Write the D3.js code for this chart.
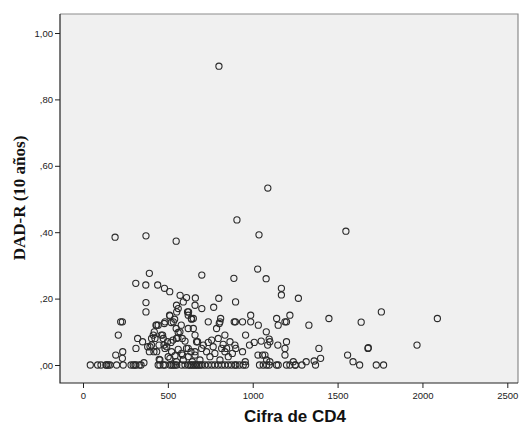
<!DOCTYPE html>
<html><head><meta charset="utf-8">
<script src="https://cdn.jsdelivr.net/npm/d3@7"></script>
<style>
html,body{margin:0;padding:0;background:#fff;}
svg{display:block;}
</style></head>
<body>
<svg id="chart" width="523" height="427"></svg>
<script>
// CD4 count values
const cd4 = [
801,1089,907,1037,1549,189,371,549,
391,311,370,440,480,511,572,610,662,700,800,889,1029,1079,1169,1169,1269,899,770,700,
1758,1449,2088,1639,1331,1968,1679,1681,1390,1559,1591,1630,1728,1771,1400,1362,1315,1370,
1290,1239,1252,1190,1190,1199,1148,1141,1150,1190,1199,1219,
1097,1101,1080,1088,1050,1009,1031,1058,1072,1082,1101,
988,988,1033,940,898,958,981,940,900,880,956,
424,434,434,461,483,483,512,520,540,549,551,561,561,559,518,502,542,453,
591,616,620,640,650,620,650,660,660,601,581,620,620,591,660,675,689,699,709,728,
738,738,748,758,767,777,787,797,803,807,811,807,817,826,836,836,846,856,866,891,895,
479,532,579,420,571,414,469,322,404,473,551,585,530,351,498,669,404,448,477,493,381,312,
561,391,418,522,610,636,234,193,587,660,232,449,512,551,644,359,208,222,232,510,552,638,622,
371,371,430,443,395,
43,86,106,135,139,149,159,198,237,283,296,306,312,332,342,443,453,473,483,512,522,532,542,552,
581,601,620,630,640,650,660,669,679,689,699,718,738,758,777,797,817,836,856,875,895,
901,921,944,958,1040,1062,1082,1097,1140,1150,1199,1219,1250
];
// DAD-R (10 años) values, same order
const dadr = [
0.90,0.533,0.437,0.392,0.403,0.385,0.389,0.373,
0.276,0.246,0.241,0.241,0.231,0.221,0.21,0.203,0.202,0.271,0.201,0.261,0.289,0.26,0.231,0.211,0.201,0.19,0.174,0.17,
0.16,0.14,0.14,0.129,0.12,0.06,0.05,0.052,0.05,0.03,0.01,0,0,0,0.02,0.012,0.01,0,
0,0.01,0,0.03,0.05,0.07,0.06,0.14,0.12,0.13,0.13,0.15,
0.078,0.07,0.10,0.06,0.072,0.068,0.03,0.03,0.03,0.015,0.01,
0.15,0.13,0.12,0.13,0.13,0.09,0.06,0.04,0.05,0.035,0.01,
0.08,0.12,0.04,0.09,0.13,0.05,0.148,0.128,0.138,0.11,0.18,0.17,0.098,0.082,0.068,0.025,0.028,0.015,
0.19,0.16,0.15,0.138,0.14,0.11,0.11,0.09,0.18,0.072,0.035,0.05,0.025,0.015,0.04,0.07,0.015,0.05,0.06,0.04,
0.13,0.068,0.025,0.075,0.055,0.035,0.11,0.08,0.125,0.13,0.14,0.015,0.05,0.062,0.09,0.04,0.05,0.025,0.07,0.13,0.06,
0.125,0.13,0.12,0.10,0.10,0.09,0.09,0.08,0.08,0.08,0.08,0.08,0.075,0.07,0.07,0.07,0.06,0.06,0.06,0.055,0.055,0.05,
0.047,0.04,0.04,0.04,0.05,0.04,0.04,0.03,0.03,0.03,0.02,0.017,0.02,0.01,0.01,0.007,0.09,0.13,0.13,0.15,0.16,0.14,0.16,
0.188,0.16,0.12,0.12,0.055,
0,0,0,0,0,0,0,0,0,0,0,0,0,0,0,0,0,0,0,0,0,0,0,0,
0,0,0,0,0,0,0,0,0,0,0,0,0,0,0,0,0,0,0,0,0,
0,0,0,0,0,0,0,0,0,0,0,0,0
];
const xTickValues = [0,500,1000,1500,2000,2500];
const xTickLabels = ["0","500","1000","1500","2000","2500"];
const yTickValues = [0,0.2,0.4,0.6,0.8,1.0];
const yTickLabels = [",00",",20",",40",",60",",80","1,00"];
const xTitle = "Cifra de CD4";
const yTitle = "DAD-R (10 años)";

const svg = d3.select("#chart");
const L = 60, R = 518, T = 14, B = 383;
const x = d3.scaleLinear().domain([0,2500]).range([83,507.3]);
const y = d3.scaleLinear().domain([0,1]).range([365,33]);

svg.append("rect").attr("x",L).attr("y",T).attr("width",R-L).attr("height",B-T)
  .attr("fill","#f0f0f0");
// top & right frame
svg.append("path").attr("d",`M${L},${T}H${R}V${B}`).attr("fill","none")
  .attr("stroke","#8c8c8c").attr("stroke-width",1.2);

// points
svg.append("g").selectAll("circle").data(cd4.map((v,i)=>[v,dadr[i]])).join("circle")
  .attr("cx",d=>x(d[0])).attr("cy",d=>y(d[1])).attr("r",3.1)
  .attr("fill","none").attr("stroke","#2a2a2a").attr("stroke-width",1.1);

// axes
const yAxis = d3.axisLeft(y).tickValues(yTickValues)
  .tickFormat((d,i)=>yTickLabels[i]).tickSize(5).tickPadding(2);
const gy = svg.append("g").attr("transform",`translate(${L},0)`).call(yAxis);
const xAxis = d3.axisBottom(x).tickValues(xTickValues)
  .tickFormat((d,i)=>xTickLabels[i]).tickSize(5).tickPadding(4);
const gx = svg.append("g").attr("transform",`translate(0,${B})`).call(xAxis);
[gx,gy].forEach(g=>{
  g.select(".domain").remove();
  g.selectAll("line").attr("stroke","#222").attr("stroke-width",1);
  g.selectAll("text").attr("font-family","Liberation Sans, Arial, sans-serif")
   .attr("font-size",9.5).attr("fill","#222");
});
// left & bottom axis lines
svg.append("path").attr("d",`M${L},${T}V${B}H${R}`).attr("fill","none")
  .attr("stroke","#222").attr("stroke-width",1.2);

svg.append("text").attr("x",295).attr("y",422)
  .attr("text-anchor","middle").attr("font-family","Liberation Sans, Arial, sans-serif")
  .attr("font-weight","bold").attr("font-size",17).attr("fill","#111").text(xTitle);
svg.append("text").attr("transform","translate(25,198) rotate(-90)")
  .attr("text-anchor","middle").attr("font-family","Liberation Serif, Times New Roman, serif")
  .attr("font-weight","bold").attr("font-size",17).attr("fill","#111").text(yTitle);
</script>
</body></html>
